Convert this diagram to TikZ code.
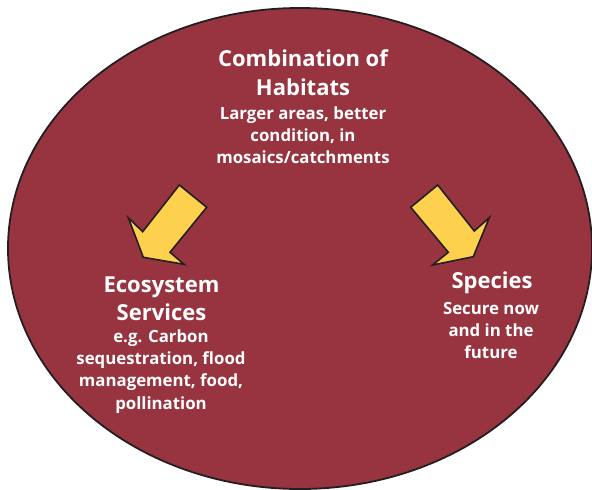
\documentclass[tikz,border=0pt]{standalone}
\usepackage{fontspec}
\setmainfont{Open Sans}
\definecolor{wine}{RGB}{152,52,64}
\definecolor{arrowyellow}{RGB}{253,209,77}
\definecolor{outlinegray}{RGB}{35,31,32}
\tikzset{
  headtext/.style={align=center, inner sep=0pt, text=white, font=\fontsize{22}{28.5}\selectfont\bfseries},
  bodytext/.style={align=center, inner sep=0pt, text=white, font=\fontsize{16.8}{22.2}\selectfont\bfseries},
  blockarrow/.style={fill=arrowyellow, draw=outlinegray, line width=1.6pt, line join=miter},
}
\begin{document}
\begin{tikzpicture}[x=1pt,y=-1pt]
\useasboundingbox (0,0) rectangle (592,490);
\draw[fill=wine, draw=outlinegray, line width=1.8pt] (300,248.5) ellipse [x radius=292, y radius=240.5];
% left arrow
\draw[blockarrow] (179.3,185) -- (206.7,207.3) -- (170,252.3) -- (184,264.3) -- (143.3,257.3) -- (128.3,217.7) -- (142.7,231.7) -- cycle;
% right arrow
\draw[blockarrow] (437.7,185) -- (410.7,207.3) -- (448.3,252.3) -- (432.7,265) -- (473.3,256.7) -- (489.3,217.7) -- (474.3,231) -- cycle;
% texts
\node[headtext] (habhead) at (303,72.5) {Combination of\\Habitats};
\node[bodytext] (habbody) at (303,135) {Larger areas, better\\condition, in\\mosaics/catchments};
\node[headtext] (ecohead) at (161.5,299) {Ecosystem\\Services};
\node[bodytext] (ecobody) at (161,371.5) {e.g. Carbon\\sequestration, flood\\management, food,\\pollination};
\node[headtext] (spehead) at (492,283) {Species};
\node[bodytext] (spebody) at (491,330.5) {Secure now\\and in the\\future};
\end{tikzpicture}
\end{document}
